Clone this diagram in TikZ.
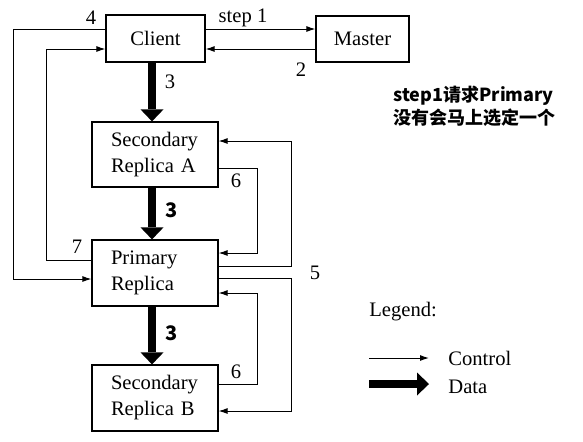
\documentclass[tikz,border=0pt]{standalone}
\usepackage{fontspec}
\setmainfont{Liberation Serif}
\newfontfamily\cjk{Noto Sans CJK SC}
\usetikzlibrary{arrows.meta,calc}

\tikzset{
  box/.style={draw,line width=0.6pt,inner sep=0pt,font=\fontsize{10.3}{13}\selectfont},
  ctrl/.style={line width=0.5pt,-{Latex[length=4.5pt,width=3pt]}},
  data/.style={line width=4pt,-{Triangle[length=6pt,width=11.5pt,line width=0pt]}},
  lbl/.style={inner sep=0pt,font=\fontsize{10.3}{13}\selectfont},
  lblb/.style={inner sep=0pt,font=\cjk\bfseries\fontsize{10}{12}\selectfont},
}

\begin{document}
\begin{tikzpicture}[x=0.5pt,y=-0.5pt]
\useasboundingbox (0,0) rectangle (583,441);

% boxes
\node[box,minimum width=49.5pt,minimum height=23.5pt] (client) at (155.5,38.5) {Client};
\node[box,minimum width=46.5pt,minimum height=23pt] (master) at (362.5,39) {Master};
\node[box,minimum width=63pt,minimum height=32.5pt,text width=44pt,align=left] (secA) at (155,154.5) {Secondary\\Replica A};
\node[box,minimum width=63pt,minimum height=33pt,text width=44pt,align=left] (prim) at (155,273) {Primary\\Replica};
\node[box,minimum width=63pt,minimum height=33pt,text width=44pt,align=left] (secB) at (155,398) {Secondary\\Replica B};

% control flow
\draw[ctrl] ($(client.east)+(0,-9.5)$) coordinate (s1) -- (s1 -| master.west);
\draw[ctrl] ($(master.west)+(0,10)$) coordinate (s2) -- (s2 -| client.east);
\draw[ctrl] ($(client.west)+(0,-9.5)$) -| ($(prim.west)+(-78,6)$) -- ($(prim.west)+(0,6)$);
\draw[ctrl] ($(prim.west)+(0,-13)$) -| ($(client.west)+(-59,10.5)$) -- ($(client.west)+(0,10.5)$);
\draw[ctrl] ($(prim.east)+(0,-7)$) -| ($(secA.east)+(73,-13.5)$) -- ($(secA.east)+(0,-13.5)$);
\draw[ctrl] ($(prim.east)+(0,5)$) -| ($(secB.east)+(73,13)$) -- ($(secB.east)+(0,13)$);
\draw[ctrl] ($(secA.east)+(0,13.5)$) -| ($(prim.east)+(39,-20)$) -- ($(prim.east)+(0,-20)$);
\draw[ctrl] ($(secB.east)+(0,-14)$) -| ($(prim.east)+(39,20)$) -- ($(prim.east)+(0,20)$);

% data flow
\draw[data] ([xshift=-1.75pt]client.south) -- ([xshift=-1.5pt]secA.north);
\draw[data] ([xshift=-1.5pt]secA.south) -- ([xshift=-1.5pt]prim.north);
\draw[data] ([xshift=-1.5pt]prim.south) -- ([xshift=-1.5pt]secB.north);

% step numbers
\node[lbl] (l4) at (91,18) {4};
\node[lbl] (l1) at (243,18) {step 1};
\node[lbl] (l2) at (301,70) {2};
\node[lbl] (l3a) at (170,82) {3};
\node[lblb] (l3b) at (172,210) {3};
\node[lbl] (l6a) at (236,181) {6};
\node[lbl] (l7) at (77,247) {7};
\node[lbl] (l5) at (315,273) {5};
\node[lblb] (l3c) at (172,333) {3};
\node[lbl] (l6b) at (236,372) {6};

% note
\node[anchor=west,align=left,inner sep=0pt,font=\cjk\bfseries\fontsize{9}{11.5}\selectfont] (note) at (393,106) {step1请求Primary\\没有会马上选定一个};

% legend
\node[lbl,anchor=west] (legend) at (369,312) {Legend:};
\coordinate (c0) at (369,358);
\coordinate (c1) at (429,358);
\coordinate (d0) at (369,384);
\coordinate (d1) at (429,384);
\draw[ctrl] (c0) -- (c1);
\draw[data] (d0) -- (d1);
\node[lbl,anchor=west] (ctrltxt) at (448,358) {Control};
\node[lbl,anchor=west] (datatxt) at (448,387) {Data};
\end{tikzpicture}
\end{document}
